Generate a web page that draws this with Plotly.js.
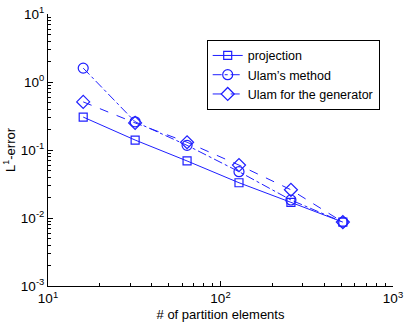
<!DOCTYPE html>
<html>
<head>
<script src="https://cdn.plot.ly/plotly-3.0.1.min.js"></script>
<style>body{margin:0;} #chart{width:407px;height:324px;}</style>
</head>
<body>
<div id="chart"></div>
<script>
var partitions = [16, 32, 64, 128, 256, 512];
var projectionErr = [0.305, 0.14, 0.069, 0.033, 0.017, 0.0087];
var ulamErr = [1.6, 0.26, 0.117, 0.048, 0.0184, 0.0087];
var generatorErr = [0.51, 0.25, 0.13, 0.06, 0.026, 0.0087];
var xTicks = [10, 100, 1000];
var xTickText = ['10<sup>1</sup>', '10<sup>2</sup>', '10<sup>3</sup>'];
var yTicks = [0.001, 0.01, 0.1, 1, 10];
var yTickText = ['10<sup>-3</sup>', '10<sup>-2</sup>', '10<sup>-1</sup>', '10<sup>0</sup>', '10<sup>1</sup>'];

var blue = '#1f1fff';
function series(name, y, dash, symbol, size) {
  return {
    x: partitions, y: y, name: name, type: 'scatter', mode: 'lines+markers',
    line: {color: blue, width: 1, dash: dash},
    marker: {symbol: symbol, size: size, color: blue, line: {color: blue, width: 1.2}}
  };
}

var data = [
  series('projection', projectionErr, 'solid', 'square-open', 8),
  series('Ulam\u2019s method', ulamErr, 'dashdot', 'circle-open', 10),
  series('Ulam for the generator', generatorErr, 'dash', 'diamond-open', 10)
];

var axisCommon = {
  type: 'log', showgrid: false, zeroline: false, showline: true,
  linecolor: '#000', linewidth: 1, ticks: 'inside', ticklen: 5, tickcolor: '#000',
  minor: {ticks: 'inside', ticklen: 3, tickcolor: '#000', dtick: 'D1'},
  tickfont: {size: 13.5, color: '#000'}
};

var layout = {
  width: 407, height: 324,
  margin: {l: 48, r: 14, t: 14, b: 38},
  paper_bgcolor: '#fff', plot_bgcolor: '#fff',
  font: {family: 'Liberation Sans, Arial, sans-serif', size: 13, color: '#000'},
  showlegend: true,
  legend: {x: 0.46, y: 0.905, xanchor: 'left', yanchor: 'top', bordercolor: '#000', borderwidth: 1,
           bgcolor: '#fff', font: {size: 12.5}, tracegroupgap: 0, itemwidth: 30},
  xaxis: Object.assign({}, axisCommon, {
    range: [1, 3], tickvals: xTicks, ticktext: xTickText,
    title: {text: '# of partition elements', standoff: 4, font: {size: 13}}
  }),
  yaxis: Object.assign({}, axisCommon, {
    range: [-3, 1], tickvals: yTicks, ticktext: yTickText,
    title: {text: 'L<sup>1</sup>-error', standoff: 2, font: {size: 13}}
  })
};

Plotly.newPlot('chart', data, layout, {displayModeBar: false});
</script>
</body>
</html>
